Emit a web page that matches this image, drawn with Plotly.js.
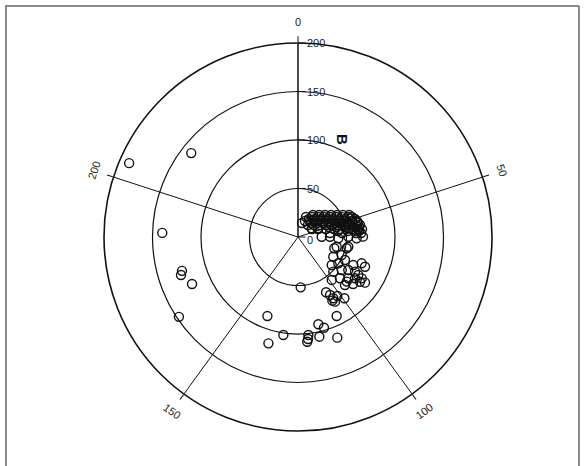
<!DOCTYPE html>
<html>
<head>
<meta charset="utf-8">
<script src="https://cdn.plot.ly/plotly-3.0.1.min.js"></script>
<style>html,body{margin:0;padding:0;background:#fff;}#chart{width:585px;height:466px;}</style>
</head>
<body>
<div id="chart"></div>
<script>
// ---- data (radial value r, angular value theta on a 0..250 circular scale) ----
const rValues = [
  190, 140, 140, 124.6, 126.8, 119.5, 147.8,
  52, 87.4, 90.7, 92.4, 97.3, 102.2, 101.6, 108.4, 105.7, 105.1, 111.4, 113.8,
  63.9, 68.3, 72.9, 74.6, 76.8, 79.2, 73.1,
  39.2, 41.1, 51.5, 52.8, 41.7, 48.7, 45.2, 49.6, 53.9, 63.9, 71, 75.6,
  51, 56.5, 62, 68.8, 73.5, 72.6, 78.3, 67.1, 60.7, 56.3, 69.3, 78.8, 68.1, 74.6, 83.6,
  33, 41.6, 51.9, 60.5, 67, 16.7, 22.5, 24.4,
  27.5, 31.4, 35.9, 40.9, 46.2, 51.6, 57.3,
  22.2, 25.2, 29.2, 33.8, 38.9, 44.3, 49.8, 55.5, 59.4,
  21.7, 25.5, 30.1, 35.2, 40.6, 46.2, 51.9, 57.7, 61.6,
  18, 20.6, 24.8, 29.7, 35.1, 40.6, 46.3, 52.2, 58, 63,
  19.7, 24.3, 29.5, 35.1, 40.8, 46.6, 52.5, 58.5, 63.5,
  16.1, 20.6, 25.8, 31.4, 37.2, 43.1, 49, 55, 61, 65.1,
  33.6, 41.5, 49.5, 57.6, 63.7,
  16.6, 22.2, 30, 38, 44.1, 50.2, 56.3, 62.4, 66.5,
  41.7, 51.9, 58.1, 63.2,
  33.2, 45.5, 59.9, 65.1,
  15
];
const thetaValues = [
  203.9, 214, 188.7, 176.2, 175, 170.9, 164,
  122.9, 139.7, 106.9, 115.9, 113.9, 130.9, 120.8, 121.5, 121.1, 116.6, 110.2, 135.8,
  106.3, 104.9, 104.2, 105.3, 104.3, 99.2, 101.6,
  74.5, 72.3, 71.5, 70.1, 82.8, 78.1, 90.1, 85.5, 80.6, 81.2, 78.1, 79.1,
  93.4, 88.2, 85.6, 84.2, 84.9, 87.4, 85.4, 89.9, 93.4, 98.5, 94.2, 87.4, 92, 90.6, 86.3,
  62.2, 63.8, 62.3, 63.4, 62.3, 40, 46.2, 62,
  23.8, 30.4, 35.3, 39.1, 42.1, 44.4, 46.3,
  15.1, 24.3, 31.3, 36.4, 40.3, 43.2, 45.6, 47.4, 48.4,
  21.8, 30.1, 36.1, 40.4, 43.6, 46, 47.9, 49.4, 50.3,
  16.4, 25.6, 33.6, 39.1, 43, 45.8, 48, 49.7, 51, 51.9,
  29.8, 37.2, 42.2, 45.6, 48.1, 50, 51.5, 52.6, 53.4,
  27.6, 36.9, 42.6, 46.4, 49, 50.9, 52.4, 53.5, 54.4, 54.9,
  50.1, 52.5, 54.2, 55.3, 56.1,
  41.9, 47.4, 51.5, 53.8, 55, 56, 56.7, 57.2, 57.6,
  56.6, 57.7, 58.3, 58.6,
  57.6, 58.9, 59.8, 60,
  11
];
const anglePeriod = 250;
const angTickVals = [0, 50, 100, 150, 200];
const angTickText = ['0', '50', '100', '150', '200'];
const radTickVals = [0, 50, 100, 150, 200];
const radTickText = ['0', '50', '100', '150', '200'];
const radialTitle = 'B';

// ---- rendering ----
const W = 585, H = 466;
const cx = 298, cy = 237, R = 194, rMax = 200;
const toDeg = v => v * 360 / anglePeriod;
const FONT = 'Liberation Sans, Arial, sans-serif';

const trace = {
  type: 'scatterpolar',
  mode: 'markers',
  r: rValues,
  theta: thetaValues.map(toDeg),
  thetaunit: 'degrees',
  marker: {symbol: 'circle-open', size: 9, color: '#111', line: {width: 1.4, color: '#111'}},
  hoverinfo: 'skip',
  showlegend: false
};

const labelR = 215;
const annotations = angTickVals.map((v, i) => {
  const d = toDeg(v);
  const a = d * Math.PI / 180;
  let ta = d;
  if (d > 90 && d < 270) ta = d - 180;
  else if (d >= 270) ta = d - 360;
  return {
    xref: 'paper', yref: 'paper',
    x: (cx + labelR * Math.sin(a)) / W,
    y: (H - (cy - labelR * Math.cos(a))) / H,
    text: angTickText[i], showarrow: false, textangle: ta,
    xanchor: 'center', yanchor: 'middle',
    font: {family: FONT, size: 11, color: '#222'}
  };
});
radTickVals.forEach((v, i) => {
  const yPix = cy - v * R / rMax + (v === 0 ? 3 : 0);
  annotations.push({
    xref: 'paper', yref: 'paper',
    x: (cx + 7) / W, y: (H - yPix) / H,
    text: radTickText[i], showarrow: false,
    xanchor: 'left', yanchor: 'middle',
    font: {family: FONT, size: 11, color: '#222'}
  });
});
annotations.push({
  xref: 'paper', yref: 'paper', x: 343 / W, y: (H - 139) / H,
  text: '<b>' + radialTitle + '</b>', showarrow: false, textangle: 90,
  xanchor: 'center', yanchor: 'middle',
  font: {family: FONT, size: 15, color: '#111'}
});

const layout = {
  width: W, height: H,
  margin: {l: 0, r: 0, t: 0, b: 0},
  paper_bgcolor: '#fff',
  showlegend: false,
  polar: {
    domain: {x: [(cx - R) / W, (cx + R) / W], y: [(H - cy - R) / H, (H - cy + R) / H]},
    bgcolor: 'rgba(0,0,0,0)',
    angularaxis: {
      rotation: 90, direction: 'clockwise', thetaunit: 'degrees',
      tickmode: 'array', tickvals: angTickVals.map(toDeg),
      showticklabels: false, ticks: 'outside', ticklen: 6, tickcolor: '#111', tickwidth: 1,
      showline: true, linecolor: '#111', linewidth: 1.6,
      showgrid: true, gridcolor: '#111', gridwidth: 1
    },
    radialaxis: {
      range: [0, rMax], angle: 90,
      tickmode: 'array', tickvals: radTickVals, showticklabels: false,
      showline: true, linecolor: '#111', linewidth: 1,
      showgrid: true, gridcolor: '#111', gridwidth: 1.2,
      ticks: 'outside', ticklen: 7, tickcolor: '#111'
    }
  },
  shapes: [
    {type: 'line', xref: 'paper', yref: 'paper', x0: 6 / W, x1: 6 / W, y0: 0, y1: (H - 6) / H, line: {color: '#888', width: 2}},
    {type: 'line', xref: 'paper', yref: 'paper', x0: 5 / W, x1: 579 / W, y0: (H - 6) / H, y1: (H - 6) / H, line: {color: '#888', width: 2}},
    {type: 'line', xref: 'paper', yref: 'paper', x0: 579 / W, x1: 579 / W, y0: 0, y1: (H - 6) / H, line: {color: '#888', width: 2}}
  ],
  annotations: annotations
};

Plotly.newPlot('chart', [trace], layout, {staticPlot: true, displayModeBar: false});
</script>
</body>
</html>
